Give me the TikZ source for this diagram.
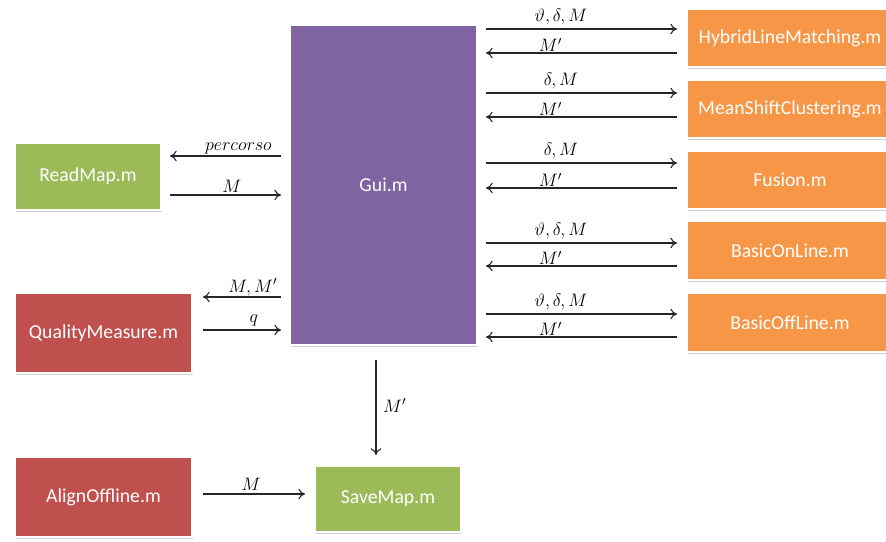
\RequirePackage{fix-cm}
\documentclass[tikz,border=0pt]{standalone}
\usepackage{fontspec}
\setmainfont{Carlito}
\usetikzlibrary{shadows,arrows.meta}
\definecolor{cpurple}{HTML}{8064A2}
\definecolor{cgreen}{HTML}{9BBB59}
\definecolor{cred}{HTML}{C0504D}
\definecolor{corange}{HTML}{F79646}
\newcommand{\mybox}[7]{\node[box,fill=#6,minimum width={(#4-#2)*0.75pt},minimum height={(#5-#3)*0.75pt}] (#1) at ({(#2+#4)/2},{(#3+#5)/2}) {#7};}
\begin{document}
\begin{tikzpicture}[x=0.75pt,y=-0.75pt,
 box/.style={draw=white, line width=1.2pt, text=white, font=\fontsize{14.8}{17}\selectfont, inner sep=0pt, outer sep=0pt,
   drop shadow={shadow xshift=1pt, shadow yshift=-1.2pt, opacity=0.3, fill=black!60}},
 arr/.style={-{To[length=5pt,width=8pt]}, line width=0.8pt, draw=black!85},
 lab/.style={font=\fontsize{13.5}{15}\selectfont, inner sep=1pt}]
\useasboundingbox (0,0) rectangle (886,542);
\fill[white] (0,0) rectangle (886,542);
\mybox{gui}{290}{25}{477}{345}{cpurple}{Gui.m}
\mybox{readmap}{15}{143}{161}{210}{cgreen}{ReadMap.m}
\mybox{quality}{15}{293}{192}{373}{cred}{QualityMeasure.m}
\mybox{align}{15}{457}{192}{537}{cred}{AlignOffline.m}
\mybox{save}{315}{466}{461}{532}{cgreen}{SaveMap.m}
\mybox{hlm}{687}{9}{893}{67}{corange}{HybridLineMatching.m}
\mybox{msc}{687}{80}{893}{138}{corange}{MeanShiftClustering.m}
\mybox{fusion}{687}{151}{893}{209}{corange}{Fusion.m}
\mybox{bon}{687}{221}{893}{280}{corange}{BasicOnLine.m}
\mybox{boff}{687}{293}{893}{352}{corange}{BasicOffLine.m}
% right side
\draw[arr,shorten <=6.75pt,shorten >=7.5pt] (gui.east |- 0,29) -- node[lab,pos=0.4,above=1.5pt]{$\vartheta,\delta,M$} (hlm.west |- 0,29);
\draw[arr,shorten <=7.5pt,shorten >=6.75pt] (hlm.west |- 0,53) -- node[lab,pos=0.65,above=-0.5pt]{$M'$} (gui.east |- 0,53);
\draw[arr,shorten <=6.75pt,shorten >=7.5pt] (gui.east |- 0,93) -- node[lab,pos=0.4,above=1.5pt]{$\delta,M$} (msc.west |- 0,93);
\draw[arr,shorten <=7.5pt,shorten >=6.75pt] (msc.west |- 0,117) -- node[lab,pos=0.65,above=-0.5pt]{$M'$} (gui.east |- 0,117);
\draw[arr,shorten <=6.75pt,shorten >=7.5pt] (gui.east |- 0,163) -- node[lab,pos=0.4,above=1.5pt]{$\delta,M$} (fusion.west |- 0,163);
\draw[arr,shorten <=7.5pt,shorten >=6.75pt] (fusion.west |- 0,188) -- node[lab,pos=0.65,above=-0.5pt]{$M'$} (gui.east |- 0,188);
\draw[arr,shorten <=6.75pt,shorten >=7.5pt] (gui.east |- 0,243) -- node[lab,pos=0.4,above=1.5pt]{$\vartheta,\delta,M$} (bon.west |- 0,243);
\draw[arr,shorten <=7.5pt,shorten >=6.75pt] (bon.west |- 0,266) -- node[lab,pos=0.65,above=-0.5pt]{$M'$} (gui.east |- 0,266);
\draw[arr,shorten <=6.75pt,shorten >=7.5pt] (gui.east |- 0,314) -- node[lab,pos=0.4,above=1.5pt]{$\vartheta,\delta,M$} (boff.west |- 0,314);
\draw[arr,shorten <=7.5pt,shorten >=6.75pt] (boff.west |- 0,337) -- node[lab,pos=0.65,above=-0.5pt]{$M'$} (gui.east |- 0,337);
% left side
\draw[arr,shorten <=6.75pt,shorten >=6.75pt] (gui.west |- 0,156) -- node[lab,pos=0.4,above=0pt]{$percorso$} (readmap.east |- 0,156);
\draw[arr,shorten <=6.75pt,shorten >=6.75pt] (readmap.east |- 0,195) -- node[lab,pos=0.55,above=0.5pt]{$M$} (gui.west |- 0,195);
\draw[arr,shorten <=6.75pt,shorten >=8.25pt] (gui.west |- 0,297) -- node[lab,pos=0.38,above=-0.5pt]{$M,M'$} (quality.east |- 0,297);
\draw[arr,shorten <=8.25pt,shorten >=6.75pt] (quality.east |- 0,330) -- node[lab,pos=0.63,above=1.5pt]{$q$} (gui.west |- 0,330);
% bottom
\draw[arr,shorten <=11.25pt,shorten >=8.25pt] (376,0 |- gui.south) -- node[lab,right=4pt]{$M'$} (376,0 |- save.north);
\draw[arr,shorten <=8.25pt,shorten >=7.5pt] (align.east |- 0,494) -- node[lab,pos=0.48,above=1.5pt]{$M$} (save.west |- 0,494);
\end{tikzpicture}
\end{document}
